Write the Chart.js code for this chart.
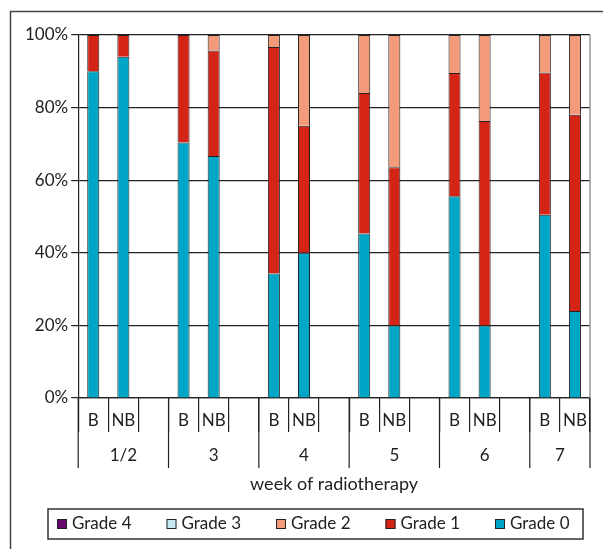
<!DOCTYPE html>
<html>
<head>
<meta charset="utf-8">
<script src="https://cdn.jsdelivr.net/npm/chart.js@4.4.0/dist/chart.umd.min.js"></script>
<style>
  html, body { margin: 0; padding: 0; background: #fff; }
  #wrap { width: 603px; height: 549px; position: relative; }
</style>
</head>
<body>
<div id="wrap"><canvas id="grafico" width="603" height="549"></canvas></div>
<script>
// semanas de radioterapia y cuantas columnas ocupa cada una (B, NB y hueco)
const semanas = ['1/2', '3', '4', '5', '6', '7'];
const columnasPorSemana = [3, 3, 3, 3, 3, 2];
const etiquetas = ['B', 'NB', '', 'B', 'NB', '', 'B', 'NB', '', 'B', 'NB', '', 'B', 'NB', '', 'B', 'NB'];
const tituloX = 'week of radiotherapy';

// porcentajes
const grado0 = [90, 94, null, 70.4, 66.7, null, 34.3, 40, null, 45.3, 20, null, 55.6, 20, null, 50.5, 24];
const grado1 = [10, 6, null, 29.6, 29, null, 62.4, 35, null, 38.7, 43.6, null, 33.9, 56.3, null, 39.2, 54];
const grado2 = [0, 0, null, 0, 4.3, null, 3.3, 25, null, 16, 36.4, null, 10.5, 23.7, null, 10.3, 22];
const grado3 = [0, 0, null, 0, 0, null, 0, 0, null, 0, 0, null, 0, 0, null, 0, 0];
const grado4 = [0, 0, null, 0, 0, null, 0, 0, null, 0, 0, null, 0, 0, null, 0, 0];

const ticksY = [0, 20, 40, 60, 80, 100];

const FUENTE = "Lato, sans-serif";
const TAM = 17;
Chart.defaults.font.family = FUENTE;
Chart.defaults.font.size = TAM;
Chart.defaults.color = '#222';

// marco, borde derecho, etiquetas del eje x, titulo y leyenda
const extras = {
  id: 'extras',
  beforeDraw(chart) {
    const c = chart.ctx;
    c.save();
    c.strokeStyle = '#444';
    c.lineWidth = 1.5;
    c.beginPath();
    c.moveTo(10.5, 549);
    c.lineTo(10.5, 11.5);
    c.lineTo(603, 11.5);
    c.stroke();
    c.restore();
  },
  afterDraw(chart) {
    const c = chart.ctx;
    const a = chart.chartArea;
    const x = chart.scales.x;
    const paso = x.getPixelForValue(1) - x.getPixelForValue(0);
    c.save();
    c.strokeStyle = '#999';
    c.lineWidth = 1.5;
    c.beginPath();
    c.moveTo(a.right, a.top);
    c.lineTo(a.right, a.bottom);
    c.stroke();

    c.strokeStyle = '#222';
    c.lineWidth = 1.2;
    c.fillStyle = '#222';
    c.font = TAM + 'px ' + FUENTE;
    c.textAlign = 'center';
    c.textBaseline = 'middle';

    // B / NB
    etiquetas.forEach((t, k) => {
      if (t) c.fillText(t, x.getPixelForValue(k), a.bottom + 23);
    });

    // semanas
    let i = 0;
    let x1 = 0;
    semanas.forEach((s, k) => {
      const x0 = x.getPixelForValue(i) - paso / 2;
      x1 = x.getPixelForValue(i + columnasPorSemana[k] - 1) + paso / 2;
      c.beginPath();
      c.moveTo(x0, a.bottom);
      c.lineTo(x0, a.bottom + 70);
      c.stroke();
      c.fillText(s, (x0 + x1) / 2, a.bottom + 58);
      i += columnasPorSemana[k];
    });
    c.beginPath();
    c.moveTo(x1, a.bottom);
    c.lineTo(x1, a.bottom + 70);
    c.stroke();

    // titulo del eje x
    c.font = '18px ' + FUENTE;
    c.fillText(tituloX, (a.left + a.right) / 2, a.bottom + 86);

    // leyenda (Grade 4 primero)
    c.font = TAM + 'px ' + FUENTE;
    const caja = { left: 48, top: 509, right: 583, bottom: 539 };
    c.strokeStyle = '#333';
    c.lineWidth = 1.5;
    c.strokeRect(caja.left, caja.top, caja.right - caja.left, caja.bottom - caja.top);
    const items = chart.data.datasets.slice().reverse();
    const yc = (caja.top + caja.bottom) / 2;
    c.textAlign = 'left';
    items.forEach((d, k) => {
      const mx = caja.left + 9 + k * 109.5;
      c.fillStyle = d.backgroundColor;
      c.fillRect(mx, yc - 5, 10, 10);
      c.strokeStyle = '#222';
      c.lineWidth = 1;
      c.strokeRect(mx + 0.5, yc - 4.5, 9, 9);
      c.fillStyle = '#222';
      c.fillText(d.label, mx + 15, yc);
    });
    c.restore();
  }
};

const ctx = document.getElementById('grafico').getContext('2d');
window.myChart = new Chart(ctx, {
  type: 'bar',
  data: {
    labels: etiquetas,
    datasets: [
      { label: 'Grade 0', data: grado0, backgroundColor: '#00A6C6' },
      { label: 'Grade 1', data: grado1, backgroundColor: '#D32416' },
      { label: 'Grade 2', data: grado2, backgroundColor: '#F39A7B' },
      { label: 'Grade 3', data: grado3, backgroundColor: '#C6E8F2' },
      { label: 'Grade 4', data: grado4, backgroundColor: '#660A6E' }
    ].map(d => Object.assign(d, {
      borderColor: '#222',
      borderWidth: 1,
      barPercentage: 0.4,
      categoryPercentage: 1
    }))
  },
  options: {
    responsive: false,
    animation: false,
    layout: { padding: { left: 22, right: 13, top: 35, bottom: 117 } },
    plugins: {
      legend: { display: false },
      tooltip: { enabled: false }
    },
    scales: {
      x: {
        stacked: true,
        grid: { display: true, offset: true, drawOnChartArea: false, tickLength: 34, color: '#222', lineWidth: 1.2 },
        border: { display: true, color: '#222', width: 1.2 },
        ticks: { display: false, autoSkip: false, maxRotation: 0 }
      },
      y: {
        stacked: true,
        min: 0,
        max: 100,
        afterBuildTicks: s => { s.ticks = ticksY.map(v => ({ value: v })); },
        grid: { color: '#222', lineWidth: 1.2, tickLength: 7 },
        border: { display: true, color: '#222', width: 1.2 },
        ticks: { padding: 3, callback: v => v + '%' }
      }
    }
  },
  plugins: [extras]
});
</script>
</body>
</html>
